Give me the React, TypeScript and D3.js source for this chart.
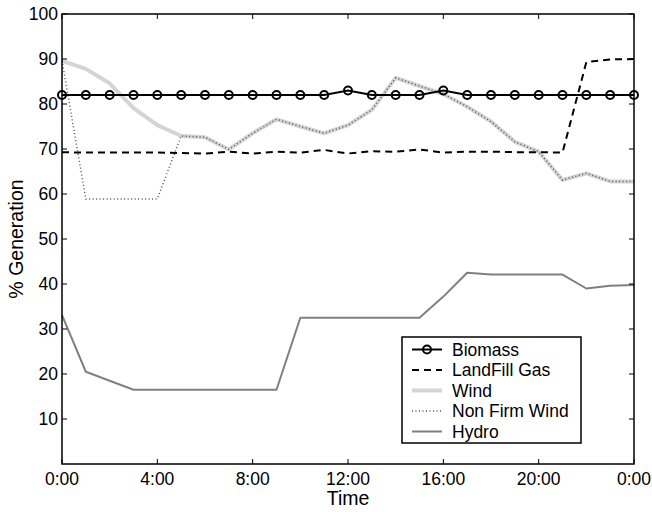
import React from "react";
import * as d3 from "d3";

const hours = d3.range(0, 25);
const xTickHours = [0, 4, 8, 12, 16, 20, 24];
const xTickLabels = ["0:00", "4:00", "8:00", "12:00", "16:00", "20:00", "0:00"];
const yTicks = [10, 20, 30, 40, 50, 60, 70, 80, 90, 100];

const biomass = [82, 82, 82, 82, 82, 82, 82, 82, 82, 82, 82, 82, 83, 82, 82, 82, 83, 82, 82, 82, 82, 82, 82, 82, 82];
const landfill = [69.3, 69.2, 69.2, 69.2, 69.2, 69.1, 69.0, 69.4, 69.0, 69.4, 69.2, 69.8, 69.0, 69.5, 69.4, 69.9, 69.2, 69.4, 69.4, 69.3, 69.3, 69.2, 89.3, 89.9, 90.0];
const wind = [89.6, 87.8, 84.6, 79.1, 75.3, 72.9, 72.6, 69.9, 73.5, 76.6, 75.0, 73.5, 75.3, 78.7, 85.8, 84.0, 82.2, 79.4, 76.1, 71.6, 69.4, 63.1, 64.6, 62.8, 62.8];
const nonFirmWind = [89.6, 58.9, 58.9, 58.9, 58.9, 72.9, 72.6, 69.9, 73.5, 76.6, 75.0, 73.5, 75.3, 78.7, 85.8, 84.0, 82.2, 79.4, 76.1, 71.6, 69.4, 63.1, 64.6, 62.8, 62.8];
const hydro = [33.1, 20.5, 18.5, 16.5, 16.5, 16.5, 16.5, 16.5, 16.5, 16.5, 32.5, 32.5, 32.5, 32.5, 32.5, 32.5, 37.2, 42.5, 42.1, 42.1, 42.1, 42.1, 39.0, 39.6, 39.8];

const legendNames = ["Biomass", "LandFill Gas", "Wind", "Non Firm Wind", "Hydro"];

const W = 652, H = 512;
const left = 62, right = 634, top = 14, bottom = 464;
const font = "'Liberation Sans', Arial, Helvetica, sans-serif";
const tickFs = 17.5;
const labelFs = 19.5;

export default function App() {
  const x = d3.scaleLinear().domain([0, 24]).range([left, right]);
  const y = d3.scaleLinear().domain([0, 100]).range([bottom, top]);
  const line = d3.line<number>().x((_, i) => x(hours[i])).y((d) => y(d));

  const styles = [
    { stroke: "#000", width: 2, dash: undefined as string | undefined },
    { stroke: "#000", width: 2, dash: "7,5" },
    { stroke: "#d4d4d4", width: 4, dash: undefined },
    { stroke: "#555", width: 1.5, dash: "1,2.5" },
    { stroke: "#808080", width: 2, dash: undefined },
  ];

  const tickLen = 5;
  const legX = 402, legY = 337, legW = 179, legH = 106;
  const rowY = (i: number) => legY + 12.5 + i * 20.5;

  return (
    <svg width={W} height={H} style={{ position: "absolute", left: 0, top: 0, background: "#fff" }} fontFamily={font}>
      <rect x={0} y={0} width={W} height={H} fill="#fff" />
      <path d={line(hydro) || ""} fill="none" stroke={styles[4].stroke} strokeWidth={styles[4].width} strokeLinejoin="round" />
      <path d={line(wind) || ""} fill="none" stroke={styles[2].stroke} strokeWidth={styles[2].width} strokeLinejoin="round" />
      <path d={line(nonFirmWind) || ""} fill="none" stroke={styles[3].stroke} strokeWidth={styles[3].width} strokeDasharray={styles[3].dash} />
      <path d={line(landfill) || ""} fill="none" stroke={styles[1].stroke} strokeWidth={styles[1].width} strokeDasharray={styles[1].dash} />
      <path d={line(biomass) || ""} fill="none" stroke="#000" strokeWidth={2} />
      {biomass.map((v, i) => (
        <circle key={i} cx={x(hours[i])} cy={y(v)} r={4} fill="none" stroke="#000" strokeWidth={2} />
      ))}
      <rect x={left} y={top} width={right - left} height={bottom - top} fill="none" stroke="#000" strokeWidth={1.5} />
      {xTickHours.map((h, i) => (
        <g key={"xt" + i}>
          <line x1={x(h)} x2={x(h)} y1={bottom} y2={bottom - tickLen} stroke="#000" strokeWidth={1} />
          <line x1={x(h)} x2={x(h)} y1={top} y2={top + tickLen} stroke="#000" strokeWidth={1} />
          <text x={x(h)} y={485} textAnchor="middle" fontSize={tickFs}>{xTickLabels[i]}</text>
        </g>
      ))}
      {yTicks.map((t) => (
        <g key={"yt" + t}>
          <line x1={left} x2={left + tickLen} y1={y(t)} y2={y(t)} stroke="#000" strokeWidth={1} />
          <line x1={right} x2={right - tickLen} y1={y(t)} y2={y(t)} stroke="#000" strokeWidth={1} />
          <text x={58} y={y(t) + 6.3} textAnchor="end" fontSize={tickFs}>{t}</text>
        </g>
      ))}
      <text x={(left + right) / 2} y={505} textAnchor="middle" fontSize={labelFs}>Time</text>
      <text transform={`translate(23,${(top + bottom) / 2}) rotate(-90)`} textAnchor="middle" fontSize={labelFs}>% Generation</text>
      <rect x={legX} y={legY} width={legW} height={legH} fill="#fff" stroke="#000" strokeWidth={1.5} />
      {legendNames.map((n, i) => (
        <g key={n}>
          <line x1={412} x2={442} y1={rowY(i)} y2={rowY(i)} stroke={styles[i].stroke} strokeWidth={styles[i].width} strokeDasharray={styles[i].dash} />
          {i === 0 && <circle cx={427} cy={rowY(i)} r={4} fill="none" stroke="#000" strokeWidth={2} />}
          <text x={452} y={rowY(i) + 6.3} fontSize={tickFs}>{n}</text>
        </g>
      ))}
    </svg>
  );
}
